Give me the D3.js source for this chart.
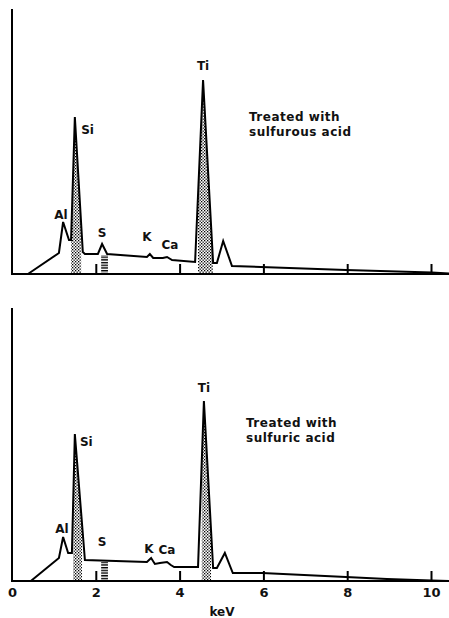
<!DOCTYPE html>
<meta charset="utf-8">
<style>
body { margin: 0; background: #fff; }
svg { display: block; }
.spec { fill: none; stroke: #000; stroke-width: 2px; stroke-linejoin: miter; }
.frame { stroke: #000; stroke-width: 2px; fill: none; }
text { font-family: "DejaVu Sans", sans-serif; font-weight: bold; fill: #111; }
.lbl { font-size: 12px; }
.note { font-size: 12px; letter-spacing: 0.5px; }
.tick text { font-family: "DejaVu Sans", sans-serif; font-weight: bold; font-size: 13px; }
</style>
<body>
<script src="https://cdn.jsdelivr.net/npm/d3@7"></script>
<script>
var width = 449, height = 618;

// spectra: [keV, counts]
var sulfurous = [
  [0.38, 0], [1.12, 21], [1.22, 52], [1.36, 34], [1.41, 34], [1.50, 157],
  [1.69, 22], [1.74, 20], [2.05, 20], [2.15, 30], [2.27, 20], [3.22, 17],
  [3.29, 20], [3.37, 16], [3.60, 16], [3.70, 17], [3.82, 14], [4.37, 12],
  [4.56, 194], [4.80, 11], [4.89, 11], [5.04, 33], [5.25, 8], [5.94, 7],
  [7.97, 4], [10.02, 1.5], [10.43, 0.5]
];
var sulfuric = [
  [0.45, 0], [1.12, 23], [1.22, 44], [1.34, 28], [1.43, 28], [1.50, 147],
  [1.74, 21], [3.22, 19], [3.32, 23], [3.41, 17], [3.53, 18], [3.70, 19],
  [3.79, 16], [3.87, 14], [4.44, 14], [4.58, 180], [4.80, 13], [4.89, 13],
  [5.08, 28], [5.27, 8], [5.97, 8], [7.97, 4], [8.95, 2], [10.02, 0.5], [10.43, 0]
];

var xTicks = [0, 2, 4, 6, 8, 10];
var axisTitle = "keV";

// shaded bands [keV from, keV to]
var siBand = [[1.41, 1.65], [1.46, 1.67]];
var tiBand = [[4.44, 4.80], [4.53, 4.75]];
var sBand = [[2.08, 2.29], [2.08, 2.29]];
var sHeight = [19, 19];

// element labels [text, keV, counts, anchor]
var labelsTop = [
  ["Al", 1.17, 55, "middle"], ["Si", 1.65, 140, "start"], ["S", 2.15, 37, "middle"],
  ["K", 3.22, 33, "middle"], ["Ca", 3.77, 25, "middle"], ["Ti", 4.56, 204, "middle"]
];
var labelsBottom = [
  ["Al", 1.19, 48, "middle"], ["Si", 1.62, 135, "start"], ["S", 2.15, 35, "middle"],
  ["K", 3.27, 28, "middle"], ["Ca", 3.70, 27, "middle"], ["Ti", 4.58, 189, "middle"]
];
var notes = [["Treated with", "sulfurous acid"], ["Treated with", "sulfuric acid"]];

var svg = d3.select("body").append("svg")
    .attr("width", width)
    .attr("height", height);

var defs = svg.append("defs");
var checker = defs.append("pattern").attr("id", "checker")
    .attr("patternUnits", "userSpaceOnUse").attr("width", 3).attr("height", 3);
checker.append("rect").attr("width", 3).attr("height", 3).attr("fill", "#fff");
checker.append("rect").attr("width", 1.3).attr("height", 1.3).attr("fill", "#000");
checker.append("rect").attr("x", 1.5).attr("y", 1.5).attr("width", 1.3).attr("height", 1.3).attr("fill", "#000");

var hatch = defs.append("pattern").attr("id", "hatch")
    .attr("patternUnits", "userSpaceOnUse").attr("width", 4).attr("height", 2.7);
hatch.append("rect").attr("width", 4).attr("height", 1.4).attr("fill", "#000");

var x = d3.scaleLinear().domain([0, 10]).range([12, 431]);

var panels = [
  {data: sulfurous, top: 9, base: 274, max: 265, labels: labelsTop, note: notes[0], noteX: 249, noteY: 121},
  {data: sulfuric, top: 308, base: 581, max: 273, labels: labelsBottom, note: notes[1], noteX: 246, noteY: 427}
];

panels.forEach(function(p, i) {
  var y = d3.scaleLinear().domain([0, p.max]).range([p.base, p.top]);
  var g = svg.append("g");

  var line = d3.line().x(function(d) { return x(d[0]); }).y(function(d) { return y(d[1]); });
  var area = d3.area().x(function(d) { return x(d[0]); }).y0(y(0)).y1(function(d) { return y(d[1]); });

  [siBand[i], tiBand[i]].forEach(function(b, j) {
    var id = "clip" + i + "_" + j;
    defs.append("clipPath").attr("id", id).append("rect")
        .attr("x", x(b[0])).attr("y", p.top).attr("width", x(b[1]) - x(b[0])).attr("height", p.base - p.top);
    g.append("path").datum(p.data)
        .attr("d", area)
        .attr("fill", "url(#checker)")
        .attr("clip-path", "url(#" + id + ")");
  });

  g.append("rect")
      .attr("x", x(sBand[i][0]) + 2).attr("width", x(sBand[i][1]) - x(sBand[i][0]) - 2)
      .attr("y", y(sHeight[i])).attr("height", y(0) - y(sHeight[i]))
      .attr("fill", "url(#hatch)");

  g.append("path").datum(p.data).attr("class", "spec").attr("d", line);

  // y axis line
  g.append("line").attr("class", "frame")
      .attr("x1", x(0)).attr("x2", x(0)).attr("y1", p.top).attr("y2", p.base + 1);

  var axis = d3.axisBottom(x).tickValues(xTicks).tickSize(-10).tickPadding(7);
  if (i === 0) axis.tickFormat("");
  var ax = g.append("g").attr("transform", "translate(0," + p.base + ")").call(axis);
  ax.select(".domain").remove();
  ax.selectAll(".tick line").attr("stroke-width", 2).filter(function(d) { return d === 0; }).remove();
  ax.selectAll(".tick text").attr("fill", "#111");

  g.append("line").attr("class", "frame")
      .attr("x1", x(0) - 1).attr("x2", width).attr("y1", p.base).attr("y2", p.base);

  g.selectAll(".lbl").data(p.labels).enter().append("text")
      .attr("class", "lbl")
      .attr("x", function(d) { return x(d[1]); })
      .attr("y", function(d) { return y(d[2]); })
      .attr("text-anchor", function(d) { return d[3]; })
      .text(function(d) { return d[0]; });

  g.selectAll(".note").data(p.note).enter().append("text")
      .attr("class", "note")
      .attr("x", p.noteX)
      .attr("y", function(d, k) { return p.noteY + k * 15; })
      .text(function(d) { return d; });
});

svg.append("text").attr("class", "lbl")
    .attr("x", 222).attr("y", 616)
    .attr("text-anchor", "middle")
    .text(axisTitle);
</script>
